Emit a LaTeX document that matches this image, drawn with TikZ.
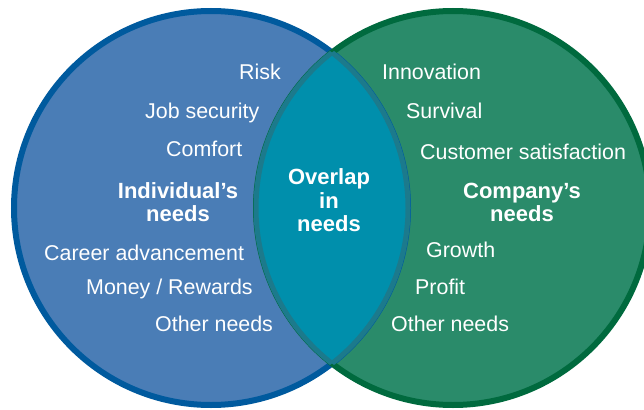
\documentclass[tikz,border=0pt]{standalone}
\usepackage{fontspec}
\setmainfont{Liberation Sans}
\definecolor{lfill}{RGB}{74,125,182}
\definecolor{lline}{RGB}{0,90,158}
\definecolor{rfill}{RGB}{42,139,106}
\definecolor{rline}{RGB}{0,106,62}
\definecolor{cfill}{RGB}{0,143,172}
\definecolor{cline}{RGB}{28,122,140}
\begin{document}
\begin{tikzpicture}[x=1pt,y=-1pt,
  lbl/.style={text=white,font=\fontsize{21.4}{24}\selectfont,inner sep=0pt,anchor=base west},
  ttl/.style={text=white,font=\fontsize{22}{23.5}\selectfont\bfseries,inner sep=0pt,align=center,anchor=base}]
\useasboundingbox (0,0) rectangle (644,409);
\clip (0,0) rectangle (644,409);
\coordinate (cl) at (211,208);
\coordinate (cr) at (453,208);
\fill[lfill] (cl) circle (197);
\fill[rfill] (cr) circle (197);
\draw[lline,line width=6] (cl) circle (197);
\draw[rline,line width=6] (cr) circle (197);
\begin{scope}
  \clip (cl) circle (197);
  \fill[cfill] (cr) circle (197);
\end{scope}
\begin{scope}
  \clip (cl) circle (197);
  \draw[cline,line width=5] (cr) circle (197);
\end{scope}
\begin{scope}
  \clip (cr) circle (197);
  \draw[cline,line width=5] (cl) circle (197);
\end{scope}
% left labels
\node[lbl] (l1) at (239,79.5) {Risk};
\node[lbl] (l2) at (145,118) {Job security};
\node[lbl] (l3) at (166,156.5) {Comfort};
\node[ttl] (lt) at (178,221.5) {Individual’s\\needs};
\node[lbl] (l4) at (44,260.5) {Career advancement};
\node[lbl] (l5) at (86,294.5) {Money / Rewards};
\node[lbl] (l6) at (155,331.5) {Other needs};
% overlap
\node[ttl] (ct) at (329,231.5) {Overlap\\in\\needs};
% right labels
\node[lbl] (r1) at (382,79.5) {Innovation};
\node[lbl] (r2) at (406,118.5) {Survival};
\node[lbl] (r3) at (420,159.5) {Customer satisfaction};
\node[ttl] (rt) at (522,221.5) {Company’s\\needs};
\node[lbl] (r4) at (426,257.5) {Growth};
\node[lbl] (r5) at (415,294.5) {Profit};
\node[lbl] (r6) at (391,331.5) {Other needs};
\end{tikzpicture}
\end{document}
